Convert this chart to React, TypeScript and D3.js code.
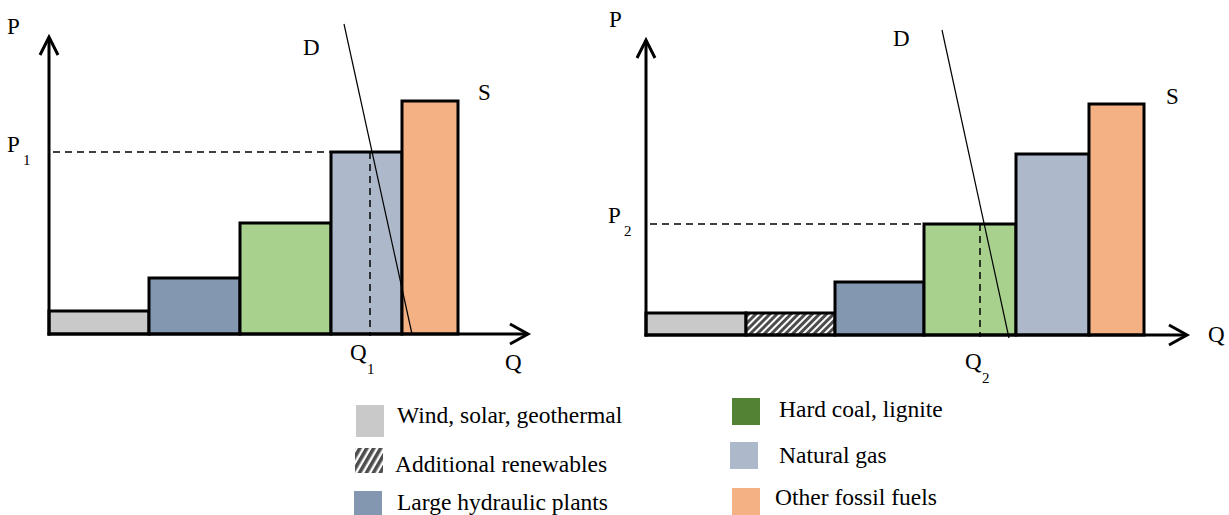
import React from "react";
import * as d3 from "d3";

// ---------- data ----------
const FUELS = [
  "Wind, solar, geothermal",
  "Additional renewables",
  "Large hydraulic plants",
  "Hard coal, lignite",
  "Natural gas",
  "Other fossil fuels",
];

// Panel 1 (before additional renewables)
const P1_FUELS = [0, 2, 3, 4, 5];
const P1_CAPACITY = [10, 9.1, 9.1, 7.1, 5.6];
const P1_PRICE = [2.3, 5.6, 11.1, 18.2, 23.3];
const P1_DEMAND_Q = [29.5, 36.3];
const P1_DEMAND_P = [31.0, 0];
const P1_EQ = { q: 32.1, p: 18.2 };

// Panel 2 (with additional renewables)
const P2_FUELS = [0, 1, 2, 3, 4, 5];
const P2_CAPACITY = [10, 8.9, 8.9, 9.2, 7.3, 5.5];
const P2_PRICE = [2.2, 2.2, 5.3, 11.1, 18.1, 23.1];
const P2_DEMAND_Q = [29.6, 36.3];
const P2_DEMAND_P = [30.5, -0.3];
const P2_EQ = { q: 33.4, p: 11.1 };

// ---------- styles ----------
const BAR_FILL = ["#c9c9c9", "url(#hatch)", "#8497b0", "#a9d18e", "#adb9ca", "#f4b183"];
const LEGEND_FILL = ["#c9c9c9", "url(#hatchLegend)", "#8497b0", "#548235", "#adb9ca", "#f4b183"];
const FONT = "'Liberation Serif', 'Times New Roman', serif";

type Panel = {
  fuels: number[];
  cap: number[];
  price: number[];
  dq: number[];
  dp: number[];
  eq: { q: number; p: number };
  sub: string;
  x0: number; x1: number; qMax: number;
  y0: number; y1: number; pMax: number;
  labels: {
    P: [number, number]; D: [number, number]; S: [number, number]; Q: [number, number];
    Peq: [number, number]; Qeq: [number, number];
  };
};

const panels: Panel[] = [
  {
    fuels: P1_FUELS, cap: P1_CAPACITY, price: P1_PRICE, dq: P1_DEMAND_Q, dp: P1_DEMAND_P, eq: P1_EQ, sub: "1",
    x0: 49, x1: 528, qMax: 47.9, y0: 334, y1: 37, pMax: 29.7,
    labels: { P: [7, 34], D: [303, 55], S: [478, 100], Q: [505, 370], Peq: [7, 152], Qeq: [350, 360] },
  },
  {
    fuels: P2_FUELS, cap: P2_CAPACITY, price: P2_PRICE, dq: P2_DEMAND_Q, dp: P2_DEMAND_P, eq: P2_EQ, sub: "2",
    x0: 646, x1: 1187, qMax: 54.1, y0: 335, y1: 40, pMax: 29.5,
    labels: { P: [609, 27], D: [893, 46], S: [1166, 104], Q: [1208, 342], Peq: [608, 223], Qeq: [965, 369] },
  },
];

function PanelView({ pn }: { pn: Panel }) {
  const x = d3.scaleLinear().domain([0, pn.qMax]).range([pn.x0, pn.x1]);
  const y = d3.scaleLinear().domain([0, pn.pMax]).range([pn.y0, pn.y1]);
  const starts = d3.cumsum([0, ...pn.cap]);
  const line = d3.line<[number, number]>().x((d) => x(d[0])).y((d) => y(d[1]));
  const demand: [number, number][] = pn.dq.map((q, i) => [q, pn.dp[i]]);
  const eqBarIdx = pn.price.findIndex((p) => Math.abs(p - pn.eq.p) < 0.01);
  const eqBarLeft = x(starts[eqBarIdx]);
  const lbl = pn.labels;
  const ax = x(0), ay = y(0);
  const tipX = x(pn.qMax), tipY = y(pn.pMax);
  return (
    <g>
      {pn.fuels.map((f, i) => (
        <rect
          key={i}
          x={x(starts[i])}
          y={y(pn.price[i])}
          width={x(starts[i + 1]) - x(starts[i])}
          height={y(0) - y(pn.price[i])}
          fill={BAR_FILL[f]}
          stroke="#000"
          strokeWidth={3}
        />
      ))}
      {/* dashed equilibrium lines */}
      <line x1={ax + 4} x2={eqBarLeft} y1={y(pn.eq.p)} y2={y(pn.eq.p)} stroke="#000" strokeWidth={1.5} strokeDasharray="7,5" />
      <line x1={x(pn.eq.q)} x2={x(pn.eq.q)} y1={y(pn.eq.p)} y2={ay + 2} stroke="#000" strokeWidth={1.5} strokeDasharray="7,5" />
      {/* demand */}
      <path d={line(demand) || ""} stroke="#000" strokeWidth={1.2} fill="none" />
      {/* axes */}
      <line x1={ax} x2={ax} y1={ay + 1.5} y2={tipY} stroke="#000" strokeWidth={3} />
      <line x1={ax - 1.5} x2={tipX} y1={ay} y2={ay} stroke="#000" strokeWidth={3} />
      <polyline points={`${ax - 9},${tipY + 18} ${ax},${tipY} ${ax + 9},${tipY + 18}`} fill="none" stroke="#000" strokeWidth={3} />
      <polyline points={`${tipX - 18},${ay - 10} ${tipX},${ay} ${tipX - 18},${ay + 10}`} fill="none" stroke="#000" strokeWidth={3} />
      {/* labels */}
      <g fontFamily={FONT} fontSize={23} fill="#000">
        <text x={lbl.P[0]} y={lbl.P[1]}>P</text>
        <text x={lbl.D[0]} y={lbl.D[1]}>D</text>
        <text x={lbl.S[0]} y={lbl.S[1]}>S</text>
        <text x={lbl.Q[0]} y={lbl.Q[1]}>Q</text>
        <text x={lbl.Peq[0]} y={lbl.Peq[1]}>P</text>
        <text x={lbl.Peq[0] + 16} y={lbl.Peq[1] + 13} fontSize={15}>{pn.sub}</text>
        <text x={lbl.Qeq[0]} y={lbl.Qeq[1]}>Q</text>
        <text x={lbl.Qeq[0] + 17} y={lbl.Qeq[1] + 14} fontSize={15}>{pn.sub}</text>
      </g>
    </g>
  );
}

// legend entries: [fuel index, swatch x, swatch y, swatch w, swatch h, text x, text baseline]
const LEGEND_LAYOUT: number[][] = [
  [0, 356, 405, 28, 32, 397, 423],
  [1, 355, 448, 28, 25, 395, 472],
  [2, 354, 491, 28, 26, 397, 510],
  [3, 732, 398, 28, 27, 779, 417],
  [4, 730, 442, 28, 27, 779, 463],
  [5, 732, 488, 28, 27, 775, 505],
];

export default function App() {
  return (
    <svg
      width={1229}
      height={515}
      style={{ position: "absolute", left: 0, top: 0, background: "#fff" }}
    >
      <defs>
        <pattern id="hatch" patternUnits="userSpaceOnUse" width={5} height={5} patternTransform="rotate(45)">
          <rect width={5} height={5} fill="#fff" />
          <rect width={3} height={5} fill="#4d4d4d" />
        </pattern>
        <pattern id="hatchLegend" patternUnits="userSpaceOnUse" width={6} height={6} patternTransform="rotate(30)">
          <rect width={6} height={6} fill="#fff" />
          <rect width={3.6} height={6} fill="#4d4d4d" />
        </pattern>
      </defs>
      <rect width={1229} height={515} fill="#fff" />
      {panels.map((pn, i) => (
        <PanelView key={i} pn={pn} />
      ))}
      <g fontFamily={FONT} fontSize={23.5} fill="#000">
        {LEGEND_LAYOUT.map(([f, sx, sy, sw, sh, tx, ty]) => (
          <g key={f}>
            <rect x={sx} y={sy} width={sw} height={sh} fill={LEGEND_FILL[f]} />
            <text x={tx} y={ty}>{FUELS[f]}</text>
          </g>
        ))}
      </g>
    </svg>
  );
}
